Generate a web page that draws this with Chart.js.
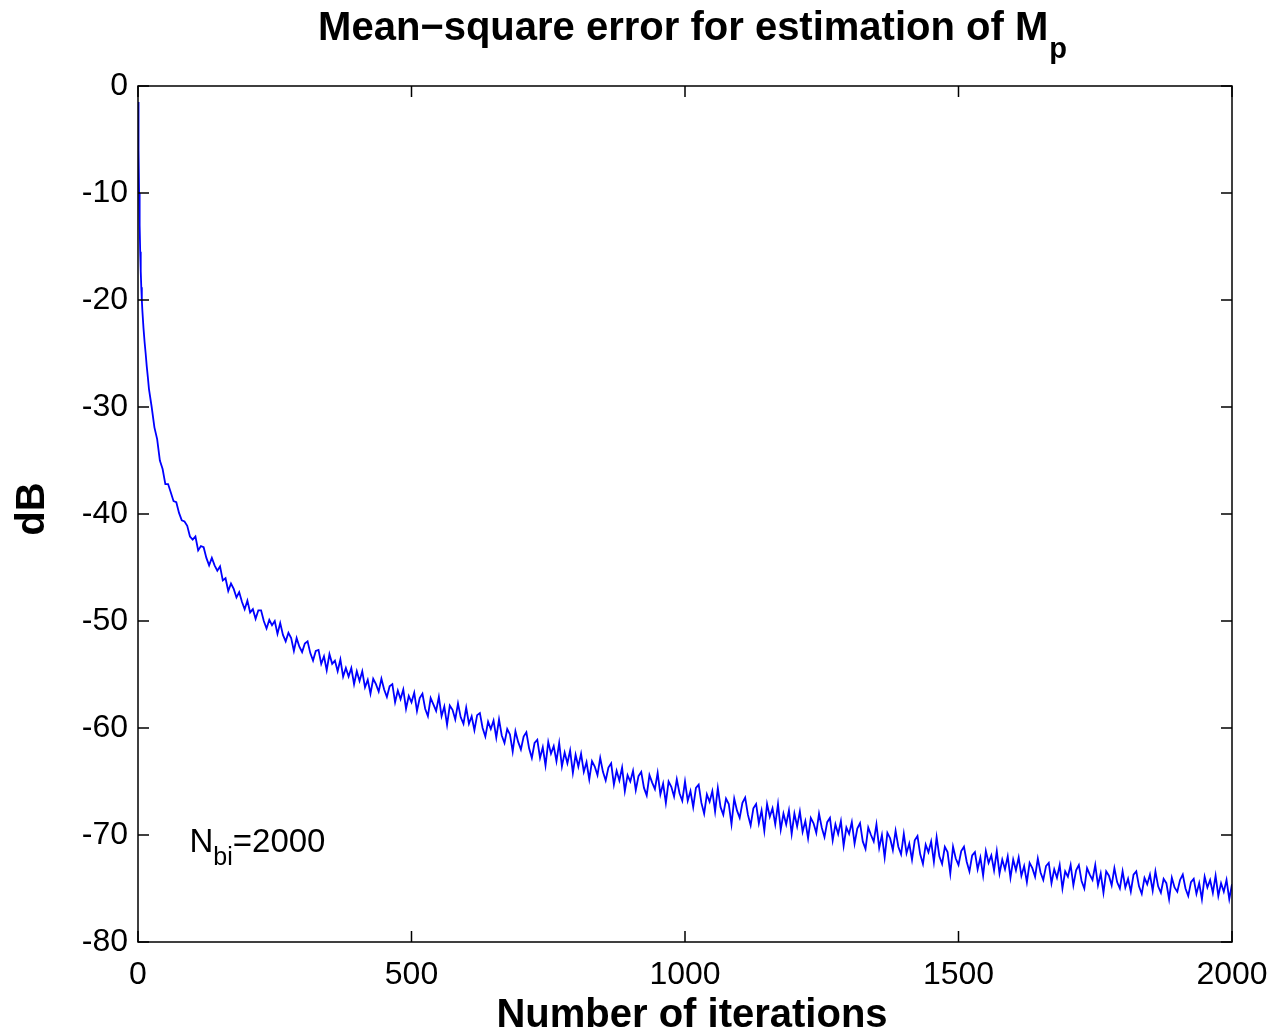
<!DOCTYPE html>
<html>
<head>
<meta charset="utf-8">
<script src="https://cdn.jsdelivr.net/npm/chart.js@4.4.1/dist/chart.umd.min.js"></script>
<style>
  html, body { margin: 0; padding: 0; background: #fff; }
  #wrap { width: 1274px; height: 1036px; }
</style>
</head>
<body>
<div id="wrap"><canvas id="mseChart" width="1274" height="1036"></canvas></div>
<script>
const earlyIter = [0, 1, 2, 3, 4, 5, 6, 7, 8, 10, 12, 14, 16, 18, 20];
const earlyDb = [-1.5, -6, -10, -13, -15.5, -17.3, -18.8, -20, -21, -22.6, -23.9, -25, -26.2, -27.2, -28.3];

// from iteration 25 onward, one reading every 5 iterations
const restStart = 25;
const restStep = 5;
const restDb = [
  -30.0, -31.9, -33.0, -35.0, -35.8, -37.2, -37.2, -38.0, -38.8, -38.9, -39.9, -40.6, -40.7, -41.1, -42.1,
  -42.4, -42.1, -43.4, -43.0, -43.1, -44.1, -44.8, -44.1, -44.8, -45.3, -44.9, -46.2, -46.0, -47.2, -46.5, -47.0, -47.8, -47.3, -48.2, -48.9,
  -48.1, -49.2, -48.9, -49.8, -49.0, -49.0, -50.0, -50.7, -49.9, -50.4, -50.0, -51.2, -50.2, -51.3, -51.9, -51.1, -51.6, -52.8, -51.6, -52.4,
  -52.9, -52.1, -51.9, -53.0, -53.7, -52.8, -52.7, -54.0, -53.3, -54.6, -53.1, -54.0, -53.7, -54.7, -53.6, -55.2, -54.4, -55.2, -54.4, -55.9,
  -54.7, -55.6, -54.7, -56.2, -55.5, -56.8, -55.4, -55.9, -56.6, -55.4, -56.4, -57.1, -56.1, -55.9, -57.6, -56.5, -57.3, -56.4, -58.2, -57.0,
  -57.6, -56.7, -58.4, -57.2, -56.8, -58.2, -58.9, -57.2, -57.8, -58.4, -57.1, -58.9, -58.0, -59.7, -57.9, -58.3, -59.2, -57.7, -59.0, -59.6,
  -58.1, -59.6, -58.9, -60.2, -58.8, -58.6, -60.0, -60.8, -59.4, -60.1, -59.3, -60.9, -59.2, -60.7, -61.4, -60.1, -60.6, -62.2, -60.3, -61.3,
  -62.0, -60.8, -60.4, -61.9, -62.8, -61.4, -61.1, -62.8, -61.8, -63.5, -61.3, -62.4, -61.7, -63.1, -61.4, -63.6, -62.3, -63.3, -62.1, -64.2,
  -62.5, -63.6, -62.4, -64.1, -63.2, -64.8, -63.1, -63.6, -64.4, -62.8, -64.1, -64.9, -63.7, -63.3, -65.3, -64.0, -64.9, -63.7, -65.9, -64.4,
  -65.0, -64.0, -65.8, -64.5, -64.1, -65.6, -66.3, -64.4, -65.1, -65.7, -64.2, -66.2, -65.2, -67.0, -65.0, -65.5, -66.4, -64.8, -66.1, -66.8,
  -65.0, -66.8, -65.9, -67.4, -65.6, -65.3, -67.0, -68.0, -66.2, -66.9, -65.9, -67.8, -65.6, -67.4, -68.1, -66.6, -67.1, -69.0, -66.6, -67.7,
  -68.4, -67.0, -66.5, -68.1, -69.1, -67.5, -67.1, -68.9, -67.7, -69.6, -67.1, -68.3, -67.5, -69.0, -67.1, -69.5, -68.0, -69.0, -67.7, -69.9,
  -68.0, -69.2, -67.8, -69.7, -68.7, -70.3, -68.4, -68.9, -69.8, -68.0, -69.3, -70.2, -68.8, -68.4, -70.5, -69.0, -69.9, -68.7, -71.0, -69.3,
  -69.9, -68.8, -70.8, -69.4, -68.9, -70.6, -71.3, -69.3, -70.0, -70.6, -69.0, -71.2, -70.0, -72.1, -69.8, -70.3, -71.4, -69.6, -71.1, -71.8,
  -69.9, -71.7, -70.8, -72.3, -70.5, -70.1, -71.8, -72.7, -70.9, -71.6, -70.6, -72.5, -70.2, -72.0, -72.7, -71.1, -71.6, -73.6, -71.1, -72.2,
  -72.8, -71.5, -71.1, -72.5, -73.4, -71.9, -71.6, -73.2, -72.1, -73.8, -71.5, -72.6, -71.9, -73.3, -71.5, -73.6, -72.3, -73.2, -72.0, -74.0,
  -72.3, -73.3, -72.1, -73.8, -72.9, -74.4, -72.6, -73.1, -73.9, -72.2, -73.5, -74.2, -72.9, -72.6, -74.5, -73.2, -74.0, -72.8, -75.0, -73.4,
  -73.9, -72.8, -74.7, -73.3, -72.8, -74.3, -75.0, -73.1, -73.7, -74.2, -72.8, -74.7, -73.6, -75.4, -73.4, -73.8, -74.7, -73.1, -74.4, -75.0,
  -73.4, -74.9, -74.1, -75.3, -73.7, -73.4, -74.8, -75.5, -74.0, -74.6, -73.7, -75.2, -73.4, -74.8, -75.4, -74.1, -74.5, -76.0, -74.0, -74.9,
  -75.3, -74.2, -73.7, -75.0, -75.7, -74.4, -74.1, -75.5, -74.5, -76.0, -73.9, -74.9, -74.2, -75.4, -73.8, -75.7, -74.5, -75.3, -74.2, -76.0, -74.6
];

const xTicks = [0, 500, 1000, 1500, 2000];
const yTicks = [0, -10, -20, -30, -40, -50, -60, -70, -80];

const FONT = '"Liberation Sans", Arial, Helvetica, sans-serif';

const points = earlyIter.map((it, i) => ({ x: it, y: earlyDb[i] }));
restDb.forEach((v, i) => points.push({ x: restStart + i * restStep, y: v }));

// matlab-style box, inward ticks and the text bits
const boxPlugin = {
  id: 'boxPlugin',
  afterDatasetsDraw(chart) {
    const { ctx, chartArea: a, scales: { x, y } } = chart;
    ctx.save();
    ctx.strokeStyle = '#000';
    ctx.lineWidth = 1.5;
    ctx.strokeRect(a.left, a.top, a.right - a.left, a.bottom - a.top);
    ctx.beginPath();
    xTicks.forEach(v => {
      const px = x.getPixelForValue(v);
      ctx.moveTo(px, a.bottom); ctx.lineTo(px, a.bottom - 11);
      ctx.moveTo(px, a.top); ctx.lineTo(px, a.top + 11);
    });
    yTicks.forEach(v => {
      const py = y.getPixelForValue(v);
      ctx.moveTo(a.left, py); ctx.lineTo(a.left + 11, py);
      ctx.moveTo(a.right, py); ctx.lineTo(a.right - 11, py);
    });
    ctx.stroke();

    ctx.fillStyle = '#000';
    // title with subscript p
    const mainTitle = 'Mean\u2212square error for estimation of M';
    ctx.font = 'bold 40px ' + FONT;
    const w1 = ctx.measureText(mainTitle).width;
    ctx.font = 'bold 29px ' + FONT;
    const w2 = ctx.measureText('p').width;
    const tx = 692 - (w1 + w2) / 2;
    ctx.textBaseline = 'alphabetic';
    ctx.textAlign = 'left';
    ctx.font = 'bold 40px ' + FONT;
    ctx.fillText(mainTitle, tx, 40);
    ctx.font = 'bold 29px ' + FONT;
    ctx.fillText('p', tx + w1 + 1, 58);

    // x axis title
    ctx.font = 'bold 40px ' + FONT;
    ctx.textAlign = 'center';
    ctx.fillText('Number of iterations', 692, 1027);

    // y axis title
    ctx.save();
    ctx.translate(33, 509);
    ctx.rotate(-Math.PI / 2);
    ctx.textBaseline = 'middle';
    ctx.fillText('dB', 0, 0);
    ctx.restore();

    // N_bi annotation
    ctx.textAlign = 'left';
    ctx.font = '33px ' + FONT;
    let nx = 189.5;
    ctx.fillText('N', nx, 852);
    nx += ctx.measureText('N').width;
    ctx.font = '25px ' + FONT;
    ctx.fillText('bi', nx, 865);
    nx += ctx.measureText('bi').width;
    ctx.font = '33px ' + FONT;
    ctx.fillText('=2000', nx, 852);
    ctx.restore();
  }
};

new Chart(document.getElementById('mseChart'), {
  type: 'line',
  data: {
    datasets: [{
      label: 'MSE',
      data: points,
      borderColor: '#0000ff',
      borderWidth: 1.8,
      pointRadius: 0,
      tension: 0,
      fill: false
    }]
  },
  options: {
    responsive: false,
    animation: false,
    events: [],
    layout: { padding: { top: 86, right: 42, left: 0, bottom: 0 } },
    plugins: {
      legend: { display: false },
      title: { display: false },
      tooltip: { enabled: false }
    },
    scales: {
      x: {
        type: 'linear',
        min: 0,
        max: 2000,
        afterBuildTicks: s => { s.ticks = xTicks.map(v => ({ value: v })); },
        afterFit: s => { s.height = 94; s.paddingLeft = 0; s.paddingRight = 0; },
        grid: { display: false, drawTicks: false },
        border: { display: false },
        ticks: {
          color: '#000',
          padding: 14,
          maxRotation: 0,
          callback: v => String(v),
          font: { family: FONT, size: 32 }
        }
      },
      y: {
        type: 'linear',
        min: -80,
        max: 0,
        afterBuildTicks: s => { s.ticks = yTicks.map(v => ({ value: v })); },
        afterFit: s => { s.width = 138; s.paddingTop = 0; s.paddingBottom = 0; },
        grid: { display: false, drawTicks: false },
        border: { display: false },
        ticks: {
          color: '#000',
          padding: 10,
          callback: v => String(v),
          font: { family: FONT, size: 32 }
        }
      }
    }
  },
  plugins: [boxPlugin]
});
</script>
</body>
</html>
